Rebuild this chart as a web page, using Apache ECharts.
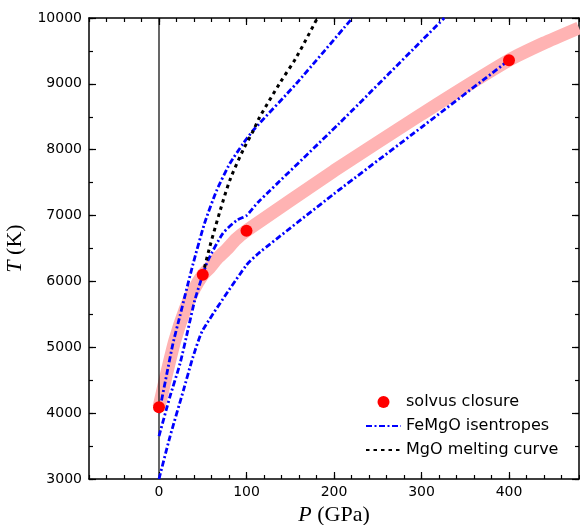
<!DOCTYPE html>
<html lang="en">
<head>
<meta charset="UTF-8">
<title>solvus closure</title>
<script src="https://cdn.jsdelivr.net/npm/echarts@6/dist/echarts.min.js"></script>
<style>
	html, body { margin: 0; padding: 0; background: #fff; }
	#view { width: 580px; height: 525px; }
</style>
</head>
<body>
<div id="view"></div>
<script>
	// tick labels
	var pTicks = [0, 100, 200, 300, 400];
	var tTicks = [3000, 4000, 5000, 6000, 7000, 8000, 9000, 10000];

	// solvus closure points
	var solvusP = [0, 50, 100, 400];
	var solvusT = [4090, 6100, 6770, 9360];

	// pink band through the solvus points
	var bandP = [0, 8, 18, 30, 40, 50, 58, 66, 77, 88, 100, 200, 300, 400, 440, 480];
	var bandT = [4090, 4560, 5100, 5580, 5880, 6100, 6210, 6340, 6480, 6640, 6770, 7680, 8540, 9360, 9620, 9850];

	// FeMgO isentropes (upper, middle, lower)
	var isenAP = [0, 9, 16, 24, 30, 39, 52, 66, 81, 96, 108, 157, 221];
	var isenAT = [4000, 4600, 5060, 5480, 5800, 6270, 6880, 7385, 7790, 8090, 8300, 9005, 10000];
	var isenBP = [0, 12.5, 24, 33, 41, 50, 56, 73, 89, 100, 113, 206, 326];
	var isenBT = [3650, 4250, 4750, 5260, 5720, 6100, 6320, 6730, 6930, 7000, 7200, 8400, 10000];
	var isenCP = [0, 12.5, 28, 39, 50, 100, 115, 200, 300, 400];
	var isenCT = [3000, 3640, 4350, 4860, 5260, 6250, 6440, 7330, 8340, 9360];

	// MgO melting curve
	var meltP = [50, 58, 70, 81, 96, 108, 115, 138, 157, 181];
	var meltT = [6100, 6525, 7080, 7537, 7992, 8296, 8493, 9009, 9404, 10000];

	// P = 0 line
	var zeroP = [0, 0];
	var zeroT = [3000, 10000];

	function pairs(xs, ys) {
		return xs.map(function (x, i) { return [x, ys[i]]; });
	}

	var tick = { show: true, inside: true, length: 4, lineStyle: { color: '#000', width: 1.2 } };
	var bigTick = { show: true, inside: true, length: 7, lineStyle: { color: '#000', width: 1.2 } };
	var nameStyle = {
		color: '#000', fontFamily: 'Liberation Serif', fontSize: 22,
		rich: { i: { fontStyle: 'italic', fontFamily: 'Liberation Serif', fontSize: 22, color: '#000' } }
	};

	function xAx(pos, major, labels) {
		var a = {
			type: 'value', position: pos, min: -80, max: 480, interval: 20,
			axisLine: { show: !major, onZero: false, lineStyle: { color: '#000', width: 1.5 } },
			axisTick: major ? Object.assign({ customValues: pTicks }, bigTick) : tick,
			axisLabel: { show: false },
			splitLine: { show: false }
		};
		if (labels) {
			a.axisLabel = {
				show: true, customValues: pTicks, color: '#000', fontSize: 14, margin: 6,
				formatter: function (v) { return String(v); }
			};
			a.name = '{i|P} (GPa)';
			a.nameLocation = 'middle';
			a.nameGap = 19;
			a.nameTextStyle = nameStyle;
		}
		return a;
	}

	function yAx(pos, major, labels) {
		var a = {
			type: 'value', position: pos, min: 3000, max: 10000, interval: 500,
			axisLine: { show: !major, onZero: false, lineStyle: { color: '#000', width: 1.5 } },
			axisTick: major ? Object.assign({ customValues: tTicks }, bigTick) : tick,
			axisLabel: { show: false },
			splitLine: { show: false }
		};
		if (labels) {
			a.axisLabel = {
				show: true, customValues: tTicks, color: '#000', fontSize: 14, margin: 7,
				formatter: function (v) { return String(v); }
			};
			a.name = '{i|T} (K)';
			a.nameLocation = 'middle';
			a.nameGap = 54;
			a.nameTextStyle = nameStyle;
		}
		return a;
	}

	var mychart = echarts.init(document.getElementById('view'));

	var isenStyle = { color: '#0000ff', width: 2.8, type: [6, 2.5, 2, 2.5] };
	var noDot = { color: 'rgba(0,0,0,0)' };

	var option = {
		animation: false,
		backgroundColor: '#fff',
		textStyle: { fontFamily: 'DejaVu Sans' },
		grid: { left: 89, right: 1, top: 18, bottom: 46, containLabel: false, outerBoundsMode: 'none' },
		xAxis: [xAx('bottom', false, true), xAx('bottom', true), xAx('top', false), xAx('top', true)],
		yAxis: [yAx('left', false, true), yAx('left', true), yAx('right', false), yAx('right', true)],
		legend: {
			orient: 'vertical',
			left: 360,
			top: 389,
			itemWidth: 35,
			itemHeight: 12,
			itemGap: 8,
			textStyle: { color: '#000', fontSize: 16, lineHeight: 16 },
			data: ['solvus closure', 'FeMgO isentropes', 'MgO melting curve']
		},
		series: [
			{
				name: 'band', type: 'line', data: pairs(bandP, bandT), smooth: 0.15,
				symbol: 'none', lineStyle: { color: '#ffb3b3', width: 13 }, z: 1
			},
			{
				name: 'zero', type: 'line', data: pairs(zeroP, zeroT),
				symbol: 'none', lineStyle: { color: '#000', width: 1.2 }, z: 2
			},
			{
				name: 'FeMgO isentropes', type: 'line', data: pairs(isenAP, isenAT), smooth: 0.2,
				symbol: 'none', lineStyle: isenStyle, itemStyle: noDot, z: 3
			},
			{
				name: 'FeMgO isentropes', type: 'line', data: pairs(isenBP, isenBT), smooth: 0.2,
				symbol: 'none', lineStyle: isenStyle, itemStyle: noDot, z: 3
			},
			{
				name: 'FeMgO isentropes', type: 'line', data: pairs(isenCP, isenCT), smooth: 0.2,
				symbol: 'none', lineStyle: isenStyle, itemStyle: noDot, z: 3
			},
			{
				name: 'MgO melting curve', type: 'line', data: pairs(meltP, meltT), smooth: 0.3,
				symbol: 'none', lineStyle: { color: '#000', width: 3, type: [3.5, 4] },
				itemStyle: noDot, z: 4
			},
			{
				name: 'solvus closure', type: 'scatter', data: pairs(solvusP, solvusT),
				symbol: 'circle', symbolSize: 12, itemStyle: { color: '#ff0000', opacity: 1 }, z: 5
			}
		]
	};

	mychart.setOption(option);
</script>
</body>
</html>
